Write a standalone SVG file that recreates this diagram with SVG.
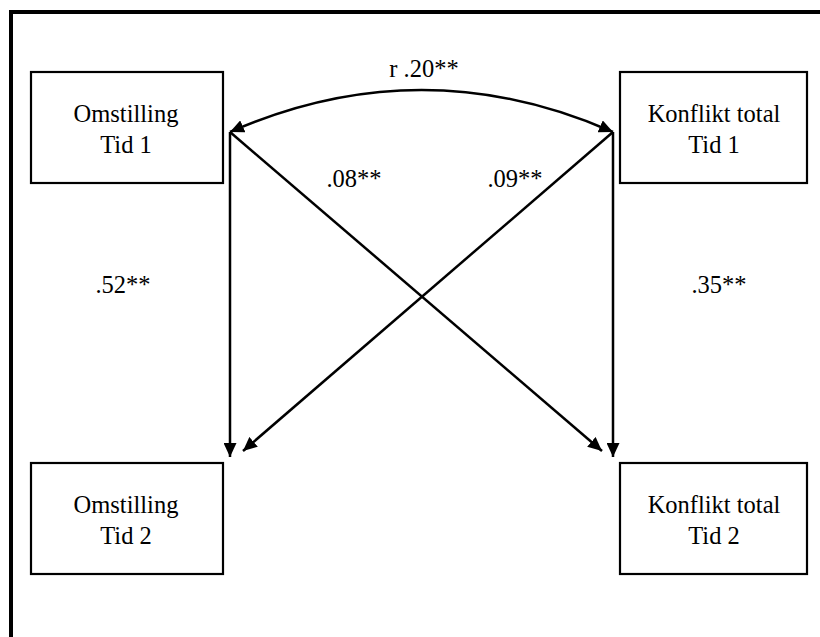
<svg xmlns="http://www.w3.org/2000/svg" width="820" height="637" viewBox="0 0 820 637">
<style>
.box{fill:#fff;stroke:#000;stroke-width:2.2}
.t{font-family:"Liberation Serif","Times New Roman",serif;font-size:24.5px;fill:#000;text-anchor:middle}
.c{fill:none;stroke:#000;stroke-width:2.5}
</style>
<defs>
<marker id="ah" markerUnits="userSpaceOnUse" markerWidth="15" markerHeight="13" refX="14" refY="6.5" orient="auto-start-reverse" viewBox="0 0 15 13">
<path d="M0,0 L14,6.5 L0,13 z" fill="#000"/>
</marker>
</defs>
<rect width="820" height="637" fill="#fff"/>
<path d="M11,637 L11,12 L820,12" fill="none" stroke="#000" stroke-width="4"/>
<g id="n1"><rect class="box" x="31" y="72" width="192" height="111"/><text class="t" x="126" y="122">Omstilling</text><text class="t" x="126" y="153">Tid 1</text></g>
<g id="n2"><rect class="box" x="620" y="72" width="187" height="111"/><text class="t" x="714" y="122">Konflikt total</text><text class="t" x="714" y="153">Tid 1</text></g>
<g id="n3"><rect class="box" x="31" y="463" width="192" height="111"/><text class="t" x="126" y="513">Omstilling</text><text class="t" x="126" y="544">Tid 2</text></g>
<g id="n4"><rect class="box" x="620" y="463" width="187" height="111"/><text class="t" x="714" y="513">Konflikt total</text><text class="t" x="714" y="544">Tid 2</text></g>
<g id="connectors">
<path class="c" d="M230,132 Q421.5,48 613,132" marker-start="url(#ah)" marker-end="url(#ah)"/>
<path class="c" d="M230,132 L230,457" marker-end="url(#ah)"/>
<path class="c" d="M613,132 L613,457" marker-end="url(#ah)"/>
<path class="c" d="M230,132 L602,451" marker-end="url(#ah)"/>
<path class="c" d="M613,132 L243,451" marker-end="url(#ah)"/>
</g>
<g id="labels">
<text class="t" x="424" y="77">r .20**</text>
<text class="t" x="354" y="187">.08**</text>
<text class="t" x="515" y="187">.09**</text>
<text class="t" x="123" y="293">.52**</text>
<text class="t" x="719" y="293">.35**</text>
</g>
</svg>
